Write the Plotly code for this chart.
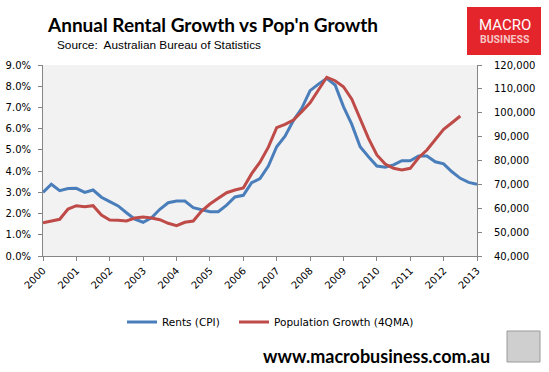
import plotly.graph_objects as go

# ---------------- data ----------------
rent_quarters = [i / 4 for i in range(53)]  # years since 2000, quarterly
rents_cpi = [3.00, 3.38, 3.08, 3.18, 3.19, 3.00, 3.11, 2.77, 2.56, 2.36,
             2.04, 1.74, 1.59, 1.80, 2.20, 2.51, 2.59, 2.59, 2.28, 2.17,
             2.09, 2.09, 2.40, 2.78, 2.86, 3.45, 3.65, 4.24, 5.15, 5.65,
             6.38, 6.96, 7.79, 8.10, 8.37, 8.06, 7.04, 6.20, 5.15, 4.68,
             4.24, 4.18, 4.29, 4.49, 4.49, 4.71, 4.71, 4.44, 4.34, 3.97,
             3.66, 3.47, 3.38]

pop_quarters = [i / 4 for i in range(51)]
pop_growth = [53950, 54660, 55370, 59690, 61070, 60650, 61070, 57170, 55080, 54950,
              54660, 55920, 56340, 55920, 55200, 53700, 52690, 54110, 54660, 58850,
              61780, 64170, 66510, 67640, 68500, 74500, 79300, 85600, 93740, 95160,
              96960, 100440, 104210, 109530, 114850, 113420, 110910, 105700, 97200, 89300,
              82300, 78530, 76730, 76020, 76730, 81170, 84400, 88590, 93070, 95830,
              98640]

start_year = 2000
year_ticks = list(range(2000, 2014))
year_labels = [str(y) for y in year_ticks]

series_names = ["Rents (CPI)", "Population Growth (4QMA)"]

# ---------------- geometry ----------------
W, H = 549, 372
ML, MR, MT, MB = 43, 72, 65, 116
PW, PH = W - ML - MR, H - MT - MB


def px2x(px):
    return (px - ML) / PW


def px2y(py):
    return (H - MB - py) / PH


BLUE = "#4a7ebb"
RED = "#be4b48"
AXIS = "#868686"
TICKFONT = dict(family="DejaVu Sans", size=10, color="#000000")

fig = go.Figure()
fig.add_trace(go.Scatter(
    x=[start_year + q for q in rent_quarters], y=rents_cpi,
    mode="lines", name=series_names[0], legend="legend",
    line=dict(color=BLUE, width=3), yaxis="y"))
fig.add_trace(go.Scatter(
    x=[start_year + q for q in pop_quarters], y=pop_growth,
    mode="lines", name=series_names[1], legend="legend2",
    line=dict(color=RED, width=3), yaxis="y2"))

legend_common = dict(orientation="h", xanchor="left", yanchor="middle",
                     font=dict(family="DejaVu Sans", size=10.5, color="#000000"),
                     bgcolor="rgba(0,0,0,0)", borderwidth=0)

fig.update_layout(
    width=W, height=H, autosize=False,
    margin=dict(l=ML, r=MR, t=MT, b=MB, pad=0, autoexpand=False),
    paper_bgcolor="white", plot_bgcolor="#f2f2f2",
    font=dict(family="DejaVu Sans", size=10, color="#000000"),
    xaxis=dict(range=[2000, 2013], tickvals=year_ticks, ticktext=year_labels,
               tickangle=-45, ticks="outside", ticklen=4, tickcolor=AXIS,
               showline=True, linecolor=AXIS, linewidth=1, showgrid=False,
               zeroline=False, tickfont=TICKFONT, automargin=False),
    yaxis=dict(range=[0, 9], dtick=1, tickformat=".1f", ticksuffix="%",
               ticks="outside", ticklen=4, tickcolor=AXIS, showline=True,
               linecolor=AXIS, linewidth=1, showgrid=False, zeroline=False,
               tickfont=TICKFONT, ticklabelstandoff=5, automargin=False),
    yaxis2=dict(range=[40000, 120000], dtick=10000, tickformat=",",
                overlaying="y", side="right", ticks="outside", ticklen=4,
                tickcolor=AXIS, showline=True, linecolor=AXIS, linewidth=1,
                showgrid=False, zeroline=False, tickfont=TICKFONT,
                ticklabelstandoff=10, automargin=False),
    showlegend=True,
    legend=dict(x=px2x(122), y=px2y(322), **legend_common),
    legend2=dict(x=px2x(234), y=px2y(322), **legend_common),
)

# logo box
fig.add_shape(type="rect", xref="paper", yref="paper",
              x0=px2x(467), x1=px2x(541), y0=px2y(55), y1=px2y(7),
              fillcolor="#e4252b", line=dict(width=0), layer="above")
# wolf box
fig.add_shape(type="rect", xref="paper", yref="paper",
              x0=px2x(507), x1=px2x(540), y0=px2y(362), y1=px2y(331),
              fillcolor="#cfcfcf", line=dict(color="#9a9a9a", width=1), layer="above")

annotations = [
    dict(text="<b>Annual Rental Growth vs Pop'n Growth</b>", x=px2x(45), y=px2y(24),
         xanchor="left", yanchor="middle",
         font=dict(family="Lato", size=19, color="#000000")),
    dict(text="Source:  Australian Bureau of Statistics", x=px2x(55), y=px2y(45),
         xanchor="left", yanchor="middle",
         font=dict(family="Liberation Sans", size=11.8, color="#000000")),
    dict(text="<b>www.macrobusiness.com.au</b>", x=px2x(492), y=px2y(356),
         xanchor="right", yanchor="middle",
         font=dict(family="Lato", size=18, color="#000000")),
    dict(text="MACRO", x=px2x(504.5), y=px2y(25), xanchor="center", yanchor="middle",
         font=dict(family="Roboto", size=15, color="#ffffff")),
    dict(text="<b>BUSINESS</b>", x=px2x(505), y=px2y(40), xanchor="center", yanchor="middle",
         font=dict(family="Roboto", size=10.5, color="#f7c4c4")),
]
for a in annotations:
    a.update(xref="paper", yref="paper", showarrow=False)
fig.update_layout(annotations=annotations)

fig.write_html("out.html", config={"displayModeBar": False},
               post_script="document.body.style.margin='0px';document.body.style.overflow='hidden';")
